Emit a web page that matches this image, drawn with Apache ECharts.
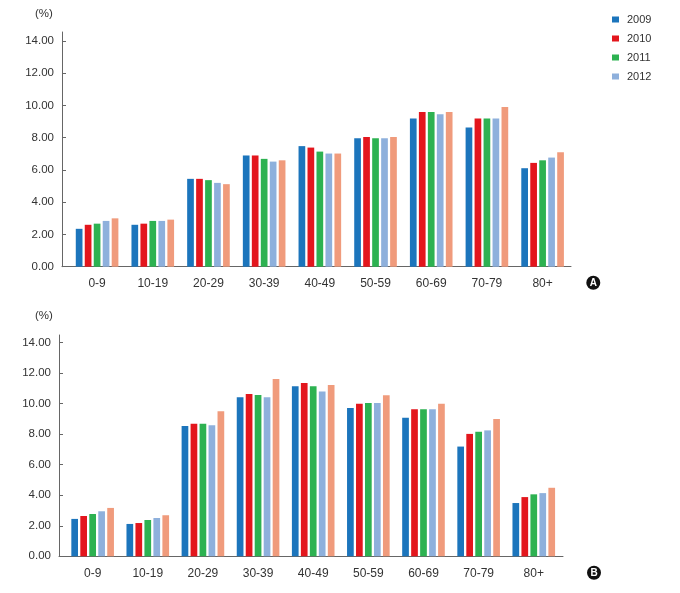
<!DOCTYPE html>
<html><head><meta charset="utf-8">
<script src="https://cdn.jsdelivr.net/npm/echarts@6/dist/echarts.min.js"></script>
<style>html,body{margin:0;padding:0;background:#fff}#c{width:680px;height:593px}</style>
</head><body><div id="c"></div>
<script>
var categories = ['0-9','10-19','20-29','30-39','40-49','50-59','60-69','70-79','80+'];
var seriesNames = ['2009','2010','2011','2012','2013'];
var legendNames = ['2009','2010','2011','2012'];
var yTicks = [0,2,4,6,8,10,12,14];
// Panel A
var a2009 = [2.35,2.60,5.45,6.90,7.48,7.97,9.20,8.63,6.11];
var a2010 = [2.60,2.67,5.45,6.90,7.39,8.05,9.60,9.20,6.44];
var a2011 = [2.67,2.84,5.37,6.69,7.14,7.97,9.60,9.20,6.60];
var a2012 = [2.84,2.84,5.20,6.52,7.02,7.97,9.46,9.20,6.77];
var a2013 = [3.00,2.92,5.12,6.60,7.02,8.05,9.60,9.90,7.10];
// Panel B
var b2009 = [2.45,2.12,8.54,10.42,11.14,9.72,9.07,7.19,3.49];
var b2010 = [2.64,2.18,8.69,10.64,11.36,9.99,9.64,8.02,3.88];
var b2011 = [2.77,2.38,8.69,10.57,11.14,10.04,9.64,8.16,4.06];
var b2012 = [2.95,2.51,8.58,10.42,10.79,10.04,9.64,8.25,4.14];
var b2013 = [3.17,2.69,9.50,11.62,11.23,10.56,9.99,8.99,4.49];

var colors = ['#1c75bc','#e3161d','#2db251','#8eb0dc','#f09b7c'];
var FONT = '"Liberation Sans", Arial, Helvetica, sans-serif';
var TXT = '#333';
var AX = '#666';

function toPts(arr){ return arr.map(function(v,i){ return [i, v]; }); }

function xAxisFor(gi, min, max){
  return {
    type:'value', gridIndex:gi, min:min, max:max,
    splitLine:{show:false},
    axisLine:{show:true, onZero:false, lineStyle:{color:AX, width:1}},
    axisTick:{show:false},
    axisLabel:{
      customValues:[0,1,2,3,4,5,6,7,8],
      formatter:function(v){ return categories[Math.round(v)]; },
      color:TXT, fontSize:12, fontFamily:FONT, margin:11
    }
  };
}
function yAxisFor(gi, max){
  return {
    type:'value', gridIndex:gi, min:0, max:max,
    splitLine:{show:false},
    axisLine:{show:true, onZero:false, lineStyle:{color:AX, width:1}},
    axisTick:{show:true, inside:true, length:4, customValues:yTicks, lineStyle:{color:AX}},
    axisLabel:{
      customValues:yTicks,
      formatter:function(v){ return v.toFixed(2); },
      color:TXT, fontSize:11.5, fontFamily:FONT, margin:8
    }
  };
}

var dataA = [a2009,a2010,a2011,a2012,a2013];
var dataB = [b2009,b2010,b2011,b2012,b2013];
var series = [];
[dataA, dataB].forEach(function(set, gi){
  set.forEach(function(arr, si){
    series.push({
      type:'bar', name:seriesNames[si], xAxisIndex:gi, yAxisIndex:gi,
      data:toPts(arr), barWidth:6.7, barGap:'34%',
      itemStyle:{color:colors[si]}, emphasis:{disabled:true}
    });
  });
});

var chart = echarts.init(document.getElementById('c'), null, {renderer:'canvas'});
chart.setOption({
  animation:false,
  backgroundColor:'#fff',
  color:colors,
  grid:[
    {left:62, right:109, top:32, bottom:326.3},
    {left:59, right:117, top:335, bottom:36.7}
  ],
  xAxis:[ xAxisFor(0, -0.63, 8.51), xAxisFor(1, -0.61, 8.53) ],
  yAxis:[ yAxisFor(0, 14.56), yAxisFor(1, 14.5) ],
  legend:{
    data:legendNames, orient:'vertical', left:612, top:14, padding:0,
    itemWidth:7, itemHeight:6, itemGap:8, icon:'rect',
    textStyle:{color:TXT, fontSize:11, fontFamily:FONT, padding:[0,0,0,3]},
    selectedMode:false
  },
  graphic:[
    {type:'text', left:35, top:8, style:{text:'(%)', fill:TXT, font:'11.5px '+FONT}},
    {type:'text', left:35, top:310, style:{text:'(%)', fill:TXT, font:'11.5px '+FONT}},
    {type:'circle', shape:{cx:593.3, cy:282.7, r:7}, style:{fill:'#111'}},
    {type:'text', x:593.3, y:283, style:{text:'A', fill:'#fff', font:'bold 10px '+FONT, align:'center', verticalAlign:'middle'}},
    {type:'circle', shape:{cx:594, cy:572.8, r:7}, style:{fill:'#111'}},
    {type:'text', x:594, y:573, style:{text:'B', fill:'#fff', font:'bold 10px '+FONT, align:'center', verticalAlign:'middle'}}
  ],
  series:series
});
</script>
</body></html>
